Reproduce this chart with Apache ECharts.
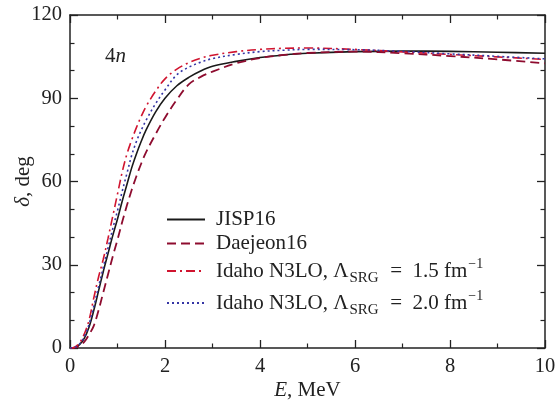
<!DOCTYPE html>
<html>
<head>
<meta charset="utf-8">
<script src="https://cdn.jsdelivr.net/npm/echarts@6/dist/echarts.min.js"></script>
<style>
  html, body { margin: 0; padding: 0; background: #fff; }
  #chart { width: 558px; height: 405px; }
</style>
</head>
<body>
<div id="chart"></div>
<script>
// energies (MeV)
const energy = [0, 0.1, 0.2, 0.3, 0.4, 0.5, 0.6, 0.7, 0.8, 0.9, 1.0, 1.1, 1.2, 1.3, 1.4, 1.5, 1.6, 1.8, 2.0, 2.25, 2.5, 2.75, 3.0, 3.5, 4.0, 4.5, 5.0, 6.0, 7.0, 8.0, 9.0, 10.0];

// phase shifts (deg)
const jisp16   = [0, 0.2, 1.2, 3.5, 7.5, 13.5, 20.5, 27.5, 34, 40.5, 46.5, 53, 59, 65, 70, 74.5, 78.5, 85, 90, 94.5, 97.5, 99.8, 101.5, 103.3, 104.7, 105.6, 106.2, 106.8, 107.0, 106.9, 106.6, 106.2];
const daejeon16 = [0, 0.1, 0.7, 2.2, 4.8, 8, 13.5, 20, 26.5, 33, 39, 45.5, 51.5, 57, 62, 66.5, 70.5, 77, 83, 89.5, 95, 97.7, 99.6, 102.6, 104.5, 105.6, 106.3, 106.8, 106.2, 105.2, 104.0, 102.6];
const idaho15  = [0, 0.3, 1.8, 5, 10, 18, 25.5, 32, 39.5, 47.5, 55.5, 63.5, 70, 75, 79.5, 83.5, 87, 92.5, 97, 100.5, 102.8, 104.4, 105.5, 106.8, 107.6, 108.0, 108.1, 107.6, 106.7, 105.8, 104.9, 104.0];
const idaho20  = [0, 0.25, 1.4, 4, 8.5, 15, 22, 29, 36, 43, 49.5, 56.5, 63, 69.5, 74.5, 78.5, 82, 88, 93, 98.5, 101.2, 103, 104.3, 105.8, 106.8, 107.3, 107.6, 107.5, 106.9, 106.0, 105.1, 104.2];

const xTicks = [0, 2, 4, 6, 8, 10];
const yTicks = [0, 30, 60, 90, 120];

const font = '"Liberation Serif", "Times New Roman", serif';
const axisColor = '#222';

function pairs(ys) {
  return energy.map((e, i) => [e, ys[i]]);
}

// fresh objects for every axis so nothing is shared
function axis(ticks, step, minorSplit, position, labels) {
  return {
    type: 'value',
    position: position,
    min: ticks[0],
    max: ticks[ticks.length - 1],
    interval: step,
    axisLine: { show: true, onZero: false, lineStyle: { color: axisColor, width: 1.5 } },
    axisTick: { show: true, inside: true, length: 8, lineStyle: { color: axisColor, width: 1.3 } },
    minorTick: { show: true, splitNumber: minorSplit, length: 4.5, lineStyle: { color: axisColor, width: 1.2 } },
    splitLine: { show: false },
    minorSplitLine: { show: false },
    axisLabel: labels
      ? { show: true, fontFamily: font, fontSize: 20.5, color: axisColor, margin: 8 }
      : { show: false }
  };
}

const nameStyle = {
  fontFamily: font, fontSize: 21, color: axisColor,
  rich: { i: { fontFamily: font, fontSize: 21, fontStyle: 'italic', color: axisColor } }
};

function mkSeries(name, ys, color, type, width) {
  return {
    name: name,
    type: 'line',
    data: pairs(ys),
    smooth: 0.35,
    symbol: 'none',
    showSymbol: false,
    lineStyle: { color: color, width: width, type: type },
    itemStyle: { color: color }
  };
}

const chart = echarts.init(document.getElementById('chart'));

chart.setOption({
  animation: false,
  backgroundColor: '#fff',
  grid: { left: 70, right: 13, top: 15, bottom: 57, outerBoundsMode: 'none', containLabel: false },
  xAxis: [
    Object.assign(axis(xTicks, 2, 2, 'bottom', true), {
      name: '{i|E}, MeV', nameLocation: 'middle', nameGap: 32, nameMoveOverlap: false, nameTextStyle: nameStyle
    }),
    axis(xTicks, 2, 2, 'top', false)
  ],
  yAxis: [
    Object.assign(axis(yTicks, 30, 3, 'left', true), {
      name: '{i|δ}, deg', nameLocation: 'middle', nameGap: 36, nameMoveOverlap: false, nameTextStyle: nameStyle
    }),
    axis(yTicks, 30, 3, 'right', false)
  ],
  legend: {
    orient: 'vertical',
    left: 161,
    top: 204,
    itemWidth: 38,
    itemHeight: 14,
    itemGap: 3,
    selectedMode: false,
    itemStyle: { opacity: 0 },
    formatter: function (name) {
      if (name === 'idaho15') return '{a|Idaho N3LO, Λ}{s|SRG}{a|  =  1.5 fm}{p|−1}';
      if (name === 'idaho20') return '{a|Idaho N3LO, Λ}{s|SRG}{a|  =  2.0 fm}{p|−1}';
      return '{a|' + name + '}';
    },
    textStyle: {
      fontFamily: font, fontSize: 21, color: axisColor, padding: [0, 0, 0, 6],
      rich: {
        a: { fontFamily: font, fontSize: 21, color: axisColor, lineHeight: 24, verticalAlign: 'middle' },
        s: { fontFamily: font, fontSize: 15, color: axisColor, lineHeight: 24, verticalAlign: 'bottom', padding: [0, 1, -3, 1] },
        p: { fontFamily: font, fontSize: 14, color: axisColor, lineHeight: 24, verticalAlign: 'top', padding: [-2, 0, 0, 1] }
      }
    },
    data: ['JISP16', 'Daejeon16', 'idaho15', 'idaho20']
  },
  graphic: [
    {
      type: 'text',
      left: 105,
      top: 46,
      style: {
        text: '{a|4}{i|n}',
        rich: {
          a: { fontFamily: font, fontSize: 21, fill: axisColor },
          i: { fontFamily: font, fontSize: 21, fontStyle: 'italic', fill: axisColor }
        }
      }
    }
  ],
  series: [
    mkSeries('JISP16', jisp16, '#1a1a1a', 'solid', 1.6),
    mkSeries('Daejeon16', daejeon16, '#8e0c2f', [9, 5], 1.8),
    mkSeries('idaho15', idaho15, '#d0142f', [9, 4, 2, 4], 1.6),
    mkSeries('idaho20', idaho20, '#3535a5', [2, 3], 1.6)
  ]
});
</script>
</body>
</html>
